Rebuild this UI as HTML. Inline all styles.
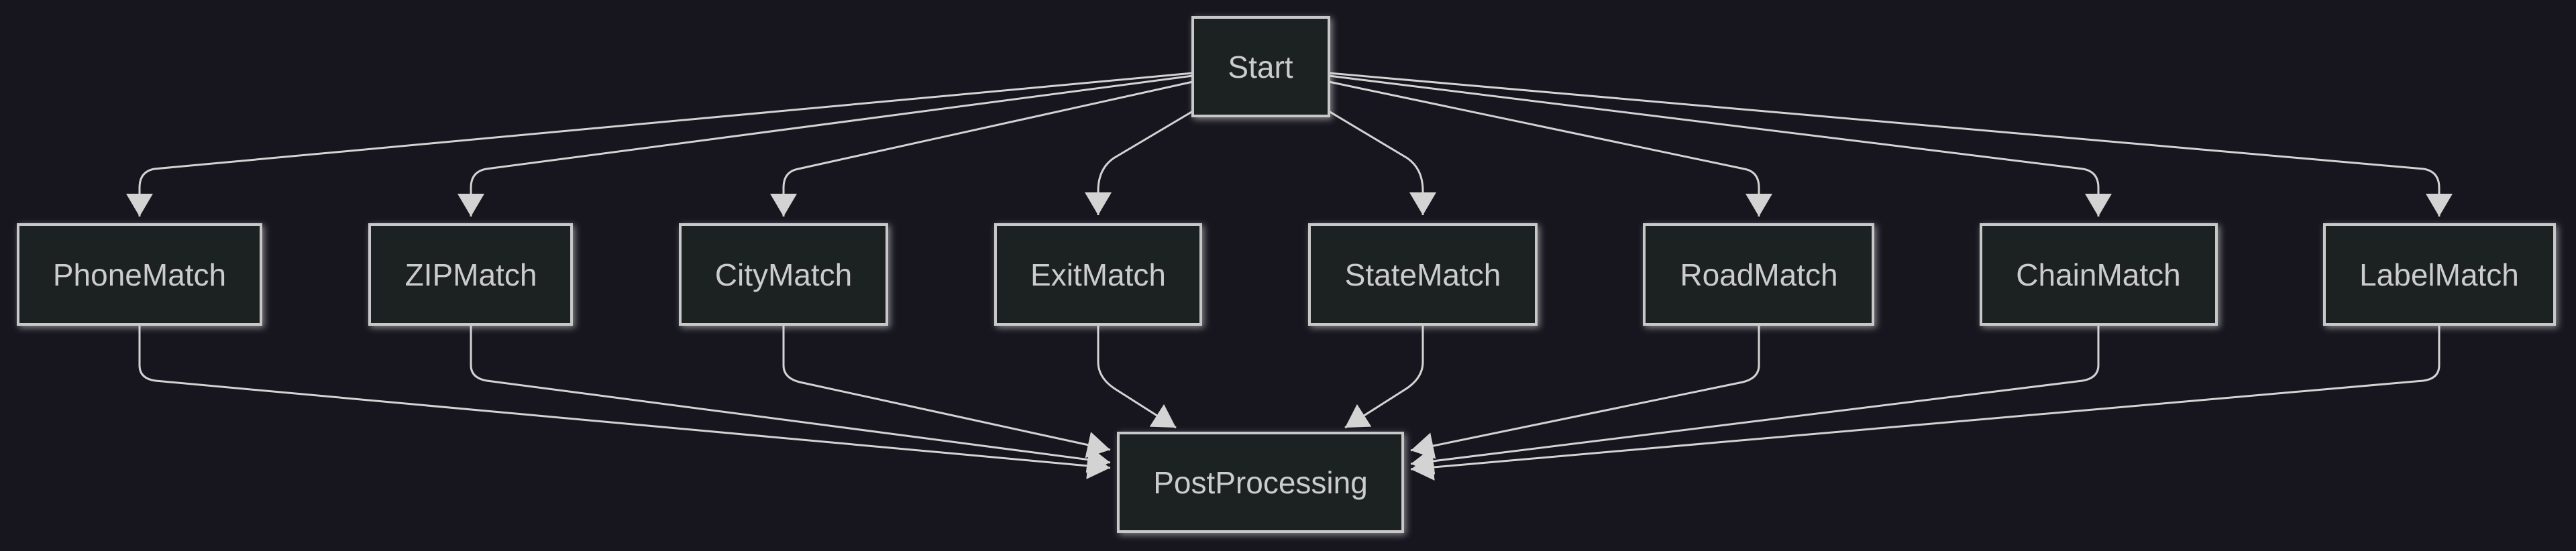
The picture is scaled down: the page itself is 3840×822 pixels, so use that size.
<!DOCTYPE html>
<html><head><meta charset="utf-8"><style>
html,body{margin:0;padding:0;background:#17161f;}
svg{display:block}
text{font-family:"Liberation Sans",Arial,sans-serif;font-size:46px;fill:#cccccc;text-anchor:middle;dominant-baseline:central}
.n{fill:#1f2020;stroke:#c8c8c8;stroke-width:4;filter:url(#g)}
.e{fill:none;stroke:#d3d3d3;stroke-width:3;marker-end:url(#a)}
</style></head><body>
<svg width="3840" height="822" viewBox="0 0 3840 822" xmlns="http://www.w3.org/2000/svg">
<defs>
<filter id="g" x="-20%" y="-30%" width="140%" height="160%">
<feDropShadow dx="3" dy="3" stdDeviation="5" flood-color="#dddddd" flood-opacity="0.55"/>
</filter>
<marker id="a" markerUnits="userSpaceOnUse" markerWidth="36" markerHeight="42" refX="34" refY="20" orient="auto">
<path d="M0,0 L34,20 L0,40 z" fill="#d3d3d3"/>
</marker>
</defs>
<rect width="3840" height="822" fill="#17161f"/>

<path class="e" d="M1778,109 L230,252 Q208,256 208,280 L208,323"/>
<path class="e" d="M1778,113 L725,252 Q702,256 702,280 L702,323"/>
<path class="e" d="M1778,122 L1190,252 Q1168,256 1168,280 L1168,323"/>
<path class="e" d="M1778,166 L1660,236 Q1637,252 1637,285 L1637,321"/>
<path class="e" d="M1981,166 L2098,236 Q2121,252 2121,285 L2121,321"/>
<path class="e" d="M1981,122 L2600,252 Q2622,256 2622,280 L2622,323"/>
<path class="e" d="M1981,113 L3105,252 Q3128,256 3128,280 L3128,323"/>
<path class="e" d="M1981,109 L3613,252 Q3636,256 3636,280 L3636,323"/>

<path class="e" d="M208,484 L208,545 Q208,565 232,568 L1655,698"/>
<path class="e" d="M702,484 L702,545 Q702,564 726,568 L1655,690"/>
<path class="e" d="M1168,484 L1168,545 Q1168,564 1192,570 L1655,671"/>
<path class="e" d="M1637,484 L1637,540 Q1637,565 1665,582 L1753,638"/>
<path class="e" d="M2121,484 L2121,540 Q2121,565 2093,582 L2005,638"/>
<path class="e" d="M2622,484 L2622,545 Q2622,564 2598,570 L2103,672"/>
<path class="e" d="M3128,484 L3128,545 Q3128,564 3104,568 L2103,692"/>
<path class="e" d="M3636,484 L3636,545 Q3636,565 3612,568 L2103,700"/>

<rect class="n" x="1778" y="26" width="203" height="147"/>
<text x="1879" y="100">Start</text>

<rect class="n" x="27" y="335" width="362" height="149"/>
<text x="208" y="410">PhoneMatch</text>
<rect class="n" x="551" y="335" width="301" height="149"/>
<text x="702" y="410">ZIPMatch</text>
<rect class="n" x="1014" y="335" width="308" height="149"/>
<text x="1168" y="410">CityMatch</text>
<rect class="n" x="1484" y="335" width="306" height="149"/>
<text x="1637" y="410">ExitMatch</text>
<rect class="n" x="1952" y="335" width="338" height="149"/>
<text x="2121" y="410">StateMatch</text>
<rect class="n" x="2451" y="335" width="341" height="149"/>
<text x="2622" y="410">RoadMatch</text>
<rect class="n" x="2953" y="335" width="351" height="149"/>
<text x="3128" y="410">ChainMatch</text>
<rect class="n" x="3465" y="335" width="343" height="149"/>
<text x="3636" y="410">LabelMatch</text>

<rect class="n" x="1667" y="646" width="424" height="147"/>
<text x="1879" y="720">PostProcessing</text>
</svg>
</body></html>
